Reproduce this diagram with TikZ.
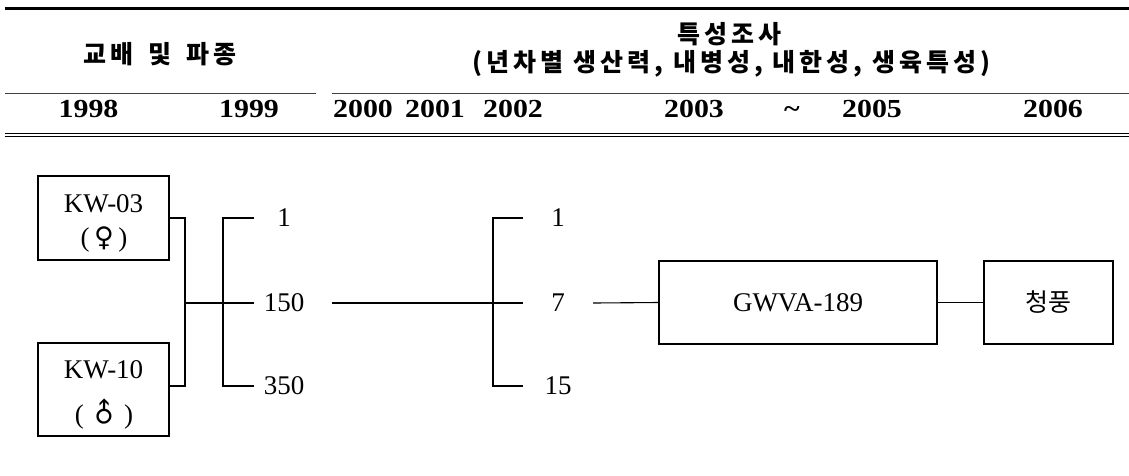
\documentclass[tikz,border=0pt]{standalone}
\usepackage{fontspec}
\usepackage{graphicx}
\setmainfont{Liberation Serif}
\newfontfamily\krfont{Noto Sans CJK KR}
\newfontfamily\krhead[LetterSpace=16]{Noto Sans CJK KR}
\newfontfamily\yrfont[FakeStretch=1.15]{Liberation Serif}
\newfontfamily\symfont{DejaVu Sans}
\tikzset{
  bx/.style={draw, line width=1.1pt, inner sep=0pt},
  body/.style={font=\fontsize{27}{32}\selectfont, inner sep=0pt},
  num/.style={font=\fontsize{27}{32}\selectfont, inner sep=0pt},
  yr/.style={font=\yrfont\bfseries\fontsize{26}{30}\selectfont, anchor=base, inner sep=0pt},
  hd/.style={font=\krhead\bfseries\fontsize{25}{30}\selectfont, inner sep=0pt},
  conn/.style={line width=1.1pt},
  rule/.style={line width=1pt},
}
\begin{document}
\begin{tikzpicture}[x=1pt,y=-1pt]
\useasboundingbox (0,0) rectangle (1129,475);
% header rules
\draw[line width=3pt] (5,8.5) -- (1129,8.5);
\draw[rule, black!75] (5,93) -- (316,93);
\draw[rule, black!75] (332,93) -- (1129,93);
\draw[rule] (5,133.3) -- (1129,133.3);
\draw[rule] (5,136.8) -- (1129,136.8);
% header texts
\node[hd] (t1) at (160,54) {교배\hspace{15pt}및\hspace{15pt}파종};
\node[hd] (t2) at (729,34) {특성조사};
\node[hd] (t3) at (731.5,64) {(년차별 생산력, 내병성, 내한성, 생육특성)};
% years
\node[yr] (y98) at (88.5,117) {1998};
\node[yr] (y99) at (249,117) {1999};
\node[yr] (y00) at (363,117) {2000};
\node[yr] (y01) at (435,117) {2001};
\node[yr] (y02) at (513,117) {2002};
\node[yr] (y03) at (694,117) {2003};
\node[yr] (ytl) at (792,117) {\textasciitilde};
\node[yr] (y05) at (872,117) {2005};
\node[yr] (y06) at (1053,117) {2006};
% parent boxes
\node[bx, minimum width=131pt, minimum height=84pt] (kw03) at (103.5,218) {};
\node[bx, minimum width=131pt, minimum height=93pt] (kw10) at (103.5,389.5) {};
\node[body, anchor=base] (kw03a) at (103.5,212) {KW-03};
\node[body, anchor=base] (kw03b) at (104,246) {(\,{\symfont ♀}\,)};
\node[body, anchor=base] (kw10a) at (103.5,378) {KW-10};
\node[body, anchor=base] (kw10b) at (104,423) {(\,{\symfont\rotatebox[origin=c]{45}{♂}}\,)};
% numbers
\node[num, minimum width=60pt] (n1) at (284,218) {1};
\node[num, minimum width=60pt] (n150) at (284,303) {150};
\node[num, minimum width=60pt] (n350) at (284,386) {350};
\node[num, minimum width=70pt] (m1) at (558,218) {1};
\node[num, minimum width=70pt] (m7) at (558,303) {7};
\node[num, minimum width=70pt] (m15) at (558,386) {15};
% result boxes
\node[bx, body, minimum width=278pt, minimum height=83pt] (gw) at (798,302.5) {GWVA-189};
\node[bx, font=\krfont\fontsize{25}{30}\selectfont, minimum width=129pt, minimum height=83pt] (cp) at (1048.5,302.5) {청풍};
% connectors
\coordinate (j1) at (185,303);
\coordinate (b1) at (223,303);
\coordinate (b2) at (493,303);
\draw[conn] (kw03.east) -| (j1) |- ([yshift=3.5pt]kw10.east);
\draw[conn] (j1) -- (n150.west);
\draw[conn] (n1.west) -| (b1) |- (n350.west);
\draw[conn, shorten <=18pt] (n150.east) -- (m7.west);
\draw[conn] (m1.west) -| (b2) |- (m15.west);
\draw[conn] (m7.east) -- (gw.west);
\draw[conn] (gw.east) -- (cp.west);
\end{tikzpicture}
\end{document}
